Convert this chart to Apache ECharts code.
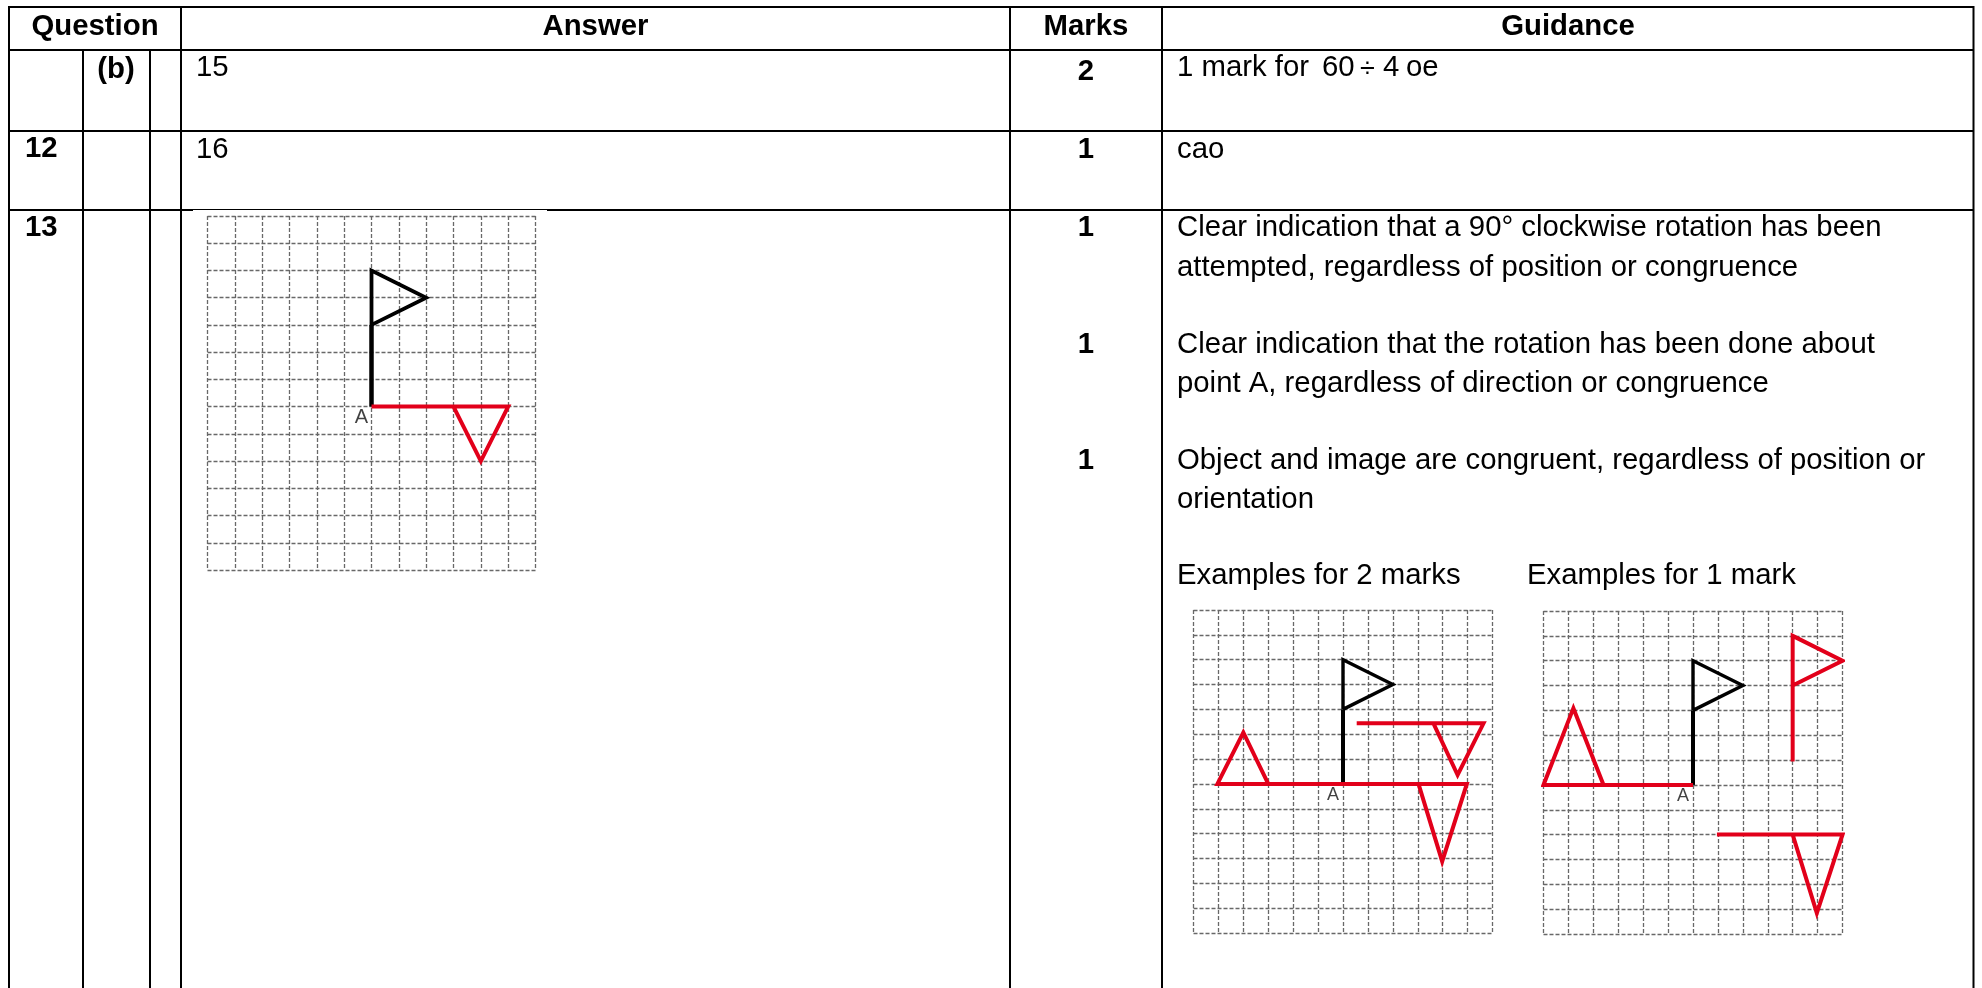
<!DOCTYPE html>
<html>
<head>
<meta charset="utf-8">
<style>
    html, body { margin: 0; padding: 0; background: #fff; }
    #chart { width: 1982px; height: 988px; }
</style>
<script src="https://cdn.jsdelivr.net/npm/echarts@6/dist/echarts.min.js"></script>
</head>
<body>
<div id="chart"></div>
<script>
const headers = ["Question", "Answer", "Marks", "Guidance"];
const questionLabels = ["(b)", "12", "13"];
const answers = ["15", "16"];
const marks = ["2", "1", "1", "1", "1"];
const firstGuidance = ["1 mark for", "60", "÷", "4", "oe"];
const guidance = [
    "cao",
    "Clear indication that a 90° clockwise rotation has been",
    "attempted, regardless of position or congruence",
    "Clear indication that the rotation has been done about",
    "point A, regardless of direction or congruence",
    "Object and image are congruent, regardless of position or",
    "orientation",
    "Examples for 2 marks",
    "Examples for 1 mark"
];

// shapes in grid squares, column then row from the top left corner
const flagPole = [[6, 7], [6, 4]];
const flagHead = [[6, 4], [8, 3], [6, 2], [6, 4]];
const answerImage = [[[6, 7], [11, 7], [10, 9], [9, 7]]];
const twoMarkImages = [
    [[3, 7], [2, 4.93], [0.96, 7], [10.97, 7], [9.98, 10.12], [9.03, 7]],
    [[6.55, 4.56], [11.64, 4.56], [10.6, 6.64], [9.63, 4.56]]
];
const oneMarkImages = [
    [[2.41, 7], [1.2, 3.91], [0, 7], [6, 7]],
    [[10, 6.06], [10, 1], [12, 2], [10, 3]],
    [[6.96, 9], [12, 9], [10.97, 12.16], [10, 9]]
];
const gridCols = 12;
const gridRows = 13;

const boards = [
    { left: 207.5, top: 216, width: 328, height: 354, images: answerImage, poleWidth: 4.5, headWidth: 3.8, labelSize: 20 },
    { left: 1193.5, top: 610, width: 299, height: 323, images: twoMarkImages, poleWidth: 4, headWidth: 3.4, labelSize: 18 },
    { left: 1543.5, top: 611, width: 299, height: 323, images: oneMarkImages, poleWidth: 4, headWidth: 3.4, labelSize: 18 }
];

const colRules = [9, 181, 1010, 1162, 1973.5];
const innerColRules = [83, 150];
const rowRules = [7, 50, 131];
const tableBottom = 988;
const fontFamily = '"Liberation Sans", Arial, sans-serif';
const fontSize = 29.33;

function rule(x1, y1, x2, y2, lineWidth) {
    return {
        type: "line",
        silent: true,
        shape: { x1, y1, x2, y2 },
        style: { stroke: "#000", lineWidth }
    };
}

function cell(text, x, y, bold, align, size) {
    return {
        type: "text",
        silent: true,
        x,
        y,
        style: {
            text,
            fill: "#000",
            align: align || "left",
            verticalAlign: "middle",
            font: `${bold ? "bold " : ""}${size || fontSize}px ${fontFamily}`
        }
    };
}

function buildTable() {
    const items = [];
    colRules.forEach(x => items.push(rule(x, rowRules[0] - 1, x, tableBottom, 2)));
    innerColRules.forEach(x => items.push(rule(x, rowRules[1], x, tableBottom, 2)));
    rowRules.forEach(y => items.push(rule(colRules[0], y, colRules[4], y, 2)));
    // the pasted grid picture covers part of this rule in the source
    items.push(rule(colRules[0], 210, 193, 210, 2));
    items.push(rule(193, 209.5, 547, 209.5, 1));
    items.push(rule(547, 210, colRules[4], 210, 2));

    items.push(cell(headers[0], 95, 27, true, "center"));
    items.push(cell(headers[1], 595.5, 27, true, "center"));
    items.push(cell(headers[2], 1086, 27, true, "center"));
    items.push(cell(headers[3], 1568, 27, true, "center"));

    items.push(cell(questionLabels[0], 116, 70, true, "center"));
    items.push(cell(questionLabels[1], 25, 149, true));
    items.push(cell(questionLabels[2], 25, 228, true));

    items.push(cell(answers[0], 196, 68));
    items.push(cell(answers[1], 196, 150));

    [72, 150, 228, 345, 461].forEach((y, i) => items.push(cell(marks[i], 1086, y, true, "center")));

    items.push(cell(firstGuidance[0], 1177, 68));
    items.push(cell(firstGuidance[1], 1322, 68));
    items.push(cell(firstGuidance[2], 1360, 70, false, "left", 27));
    items.push(cell(firstGuidance[3], 1383, 68));
    items.push(cell(firstGuidance[4], 1406, 68));

    [150, 228, 268, 345, 384, 461, 500, 576].forEach((y, i) => items.push(cell(guidance[i], 1177, y)));
    items.push(cell(guidance[8], 1527, 576));
    return items;
}

function buildOption() {
    const grid = [];
    const xAxis = [];
    const yAxis = [];
    const series = [];
    const dashed = { lineStyle: { color: "#686868", width: 1.3, type: [4, 2] } };

    boards.forEach((board, i) => {
        const axisBits = {
            gridIndex: i,
            axisLine: { show: false },
            axisTick: { show: false },
            axisLabel: { show: false },
            splitLine: dashed
        };
        grid.push({ left: board.left, top: board.top, width: board.width, height: board.height });
        xAxis.push({ type: "value", min: 0, max: gridCols, interval: 1, ...axisBits });
        yAxis.push({ type: "value", min: 0, max: gridRows, interval: 1, inverse: true, ...axisBits });
        series.push({
            type: "line", xAxisIndex: i, yAxisIndex: i, data: flagPole, symbol: "none", clip: false,
            lineStyle: { color: "#000", width: board.poleWidth }, z: 3
        });
        series.push({
            type: "line", xAxisIndex: i, yAxisIndex: i, data: flagHead, symbol: "none", clip: false,
            lineStyle: { color: "#000", width: board.headWidth, join: "miter" }, z: 3
        });
        board.images.forEach(image => series.push({
            type: "line", xAxisIndex: i, yAxisIndex: i, data: image, symbol: "none", clip: false,
            lineStyle: { color: "#e2001a", width: 4, join: "miter" }, z: 4
        }));
        series.push({
            type: "scatter", xAxisIndex: i, yAxisIndex: i, data: [flagPole[0]], symbolSize: 0, silent: true,
            label: {
                show: true, formatter: "A", position: "inside", offset: [-10, 11],
                color: "#111", fontFamily, fontSize: board.labelSize
            }
        });
    });

    return {
        backgroundColor: "#fff",
        animation: false,
        grid,
        xAxis,
        yAxis,
        series,
        graphic: buildTable()
    };
}

const chart = echarts.init(document.getElementById("chart"), null, { renderer: "canvas" });
chart.setOption(buildOption());
</script>
</body>
</html>
